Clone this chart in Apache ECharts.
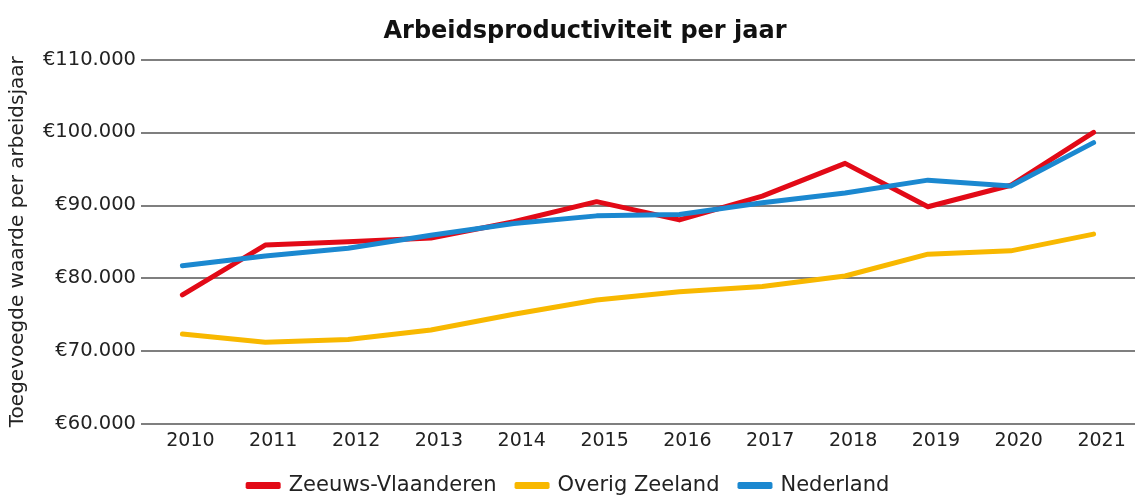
<!DOCTYPE html>
<html>
<head>
<meta charset="utf-8">
<script src="https://cdn.jsdelivr.net/npm/echarts@6/dist/echarts.min.js"></script>
<style>html,body{margin:0;padding:0;background:#fff}#c{width:1135px;height:496px}</style>
</head>
<body>
<div id="c"></div>
<script>
const years = ['2010','2011','2012','2013','2014','2015','2016','2017','2018','2019','2020','2021'];
const zeeuwsVlaanderen = [77700, 84550, 85000, 85500, 87750, 90500, 88000, 91250, 95750, 89800, 92750, 100000];
const overigZeeland = [72350, 71200, 71600, 72900, 75050, 77000, 78150, 78850, 80300, 83300, 83750, 86050];
const nederland = [81700, 83050, 84100, 85900, 87500, 88550, 88750, 90350, 91700, 93450, 92650, 98600];
const seriesNames = ['Zeeuws-Vlaanderen', 'Overig Zeeland', 'Nederland'];
const colors = ['#e20a17', '#f8b800', '#1b88d0'];

const font = '"DejaVu Sans", sans-serif';
const chart = echarts.init(document.getElementById('c'));
const mk = (name, data, color) => ({
  name, type: 'line', data, symbol: 'none', color,
  lineStyle: { width: 5, color, cap: 'round', join: 'round' }
});
chart.setOption({
  animation: false,
  title: {
    text: 'Arbeidsproductiviteit per jaar', left: 580, textAlign: 'center', top: 15,
    textStyle: { fontFamily: font, fontSize: 24, fontWeight: 'bold', color: '#111' }
  },
  legend: {
    bottom: -5, left: 'center', itemWidth: 35, itemHeight: 7, itemGap: 18,
    icon: 'roundRect',
    textStyle: { fontFamily: font, fontSize: 21, color: '#222', padding: [0, 0, 0, 3] },
    data: seriesNames
  },
  grid: { left: 141, right: 0, top: 59.5, bottom: 72, containLabel: false },
  xAxis: {
    type: 'category', data: years, boundaryGap: true,
    axisLine: { show: false }, axisTick: { show: false },
    axisLabel: { fontFamily: font, fontSize: 19, color: '#222', margin: 8, padding: [0, 0, 0, 16] }
  },
  yAxis: {
    type: 'value', min: 60000, max: 110000, interval: 10000,
    name: 'Toegevoegde waarde per arbeidsjaar', nameLocation: 'middle', nameGap: 113,
    nameTextStyle: { fontFamily: font, fontSize: 20, color: '#222' },
    axisLine: { show: false }, axisTick: { show: false },
    splitLine: { lineStyle: { color: '#555', width: 1.5 } },
    axisLabel: {
      fontFamily: font, fontSize: 19.5, color: '#222', margin: 5,
      formatter: v => '€' + v.toLocaleString('nl-NL').replace(/,/g, '.')
    }
  },
  series: [
    mk(seriesNames[0], zeeuwsVlaanderen, colors[0]),
    mk(seriesNames[1], overigZeeland, colors[1]),
    mk(seriesNames[2], nederland, colors[2])
  ]
});
</script>
</body>
</html>
